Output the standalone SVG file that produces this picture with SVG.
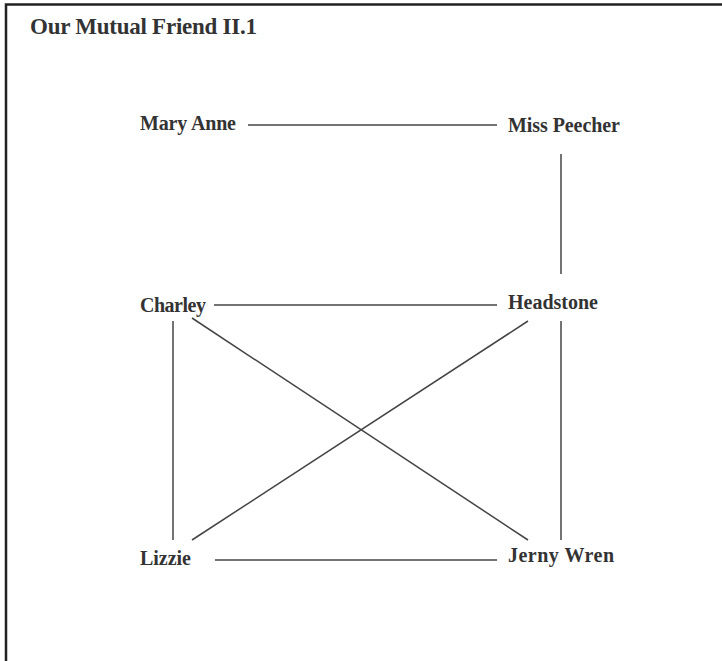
<svg xmlns="http://www.w3.org/2000/svg" width="722" height="661" viewBox="0 0 722 661">
<style>
.lbl{font-family:"Liberation Serif","Times New Roman",serif;font-weight:bold;font-size:20px;fill:#333}
.ttl{font-family:"Liberation Serif","Times New Roman",serif;font-weight:bold;font-size:23px;fill:#333}
.edge{stroke:#444;stroke-width:1.5;fill:none}
</style>
<rect x="0" y="0" width="722" height="661" fill="#fff"/>
<path d="M6,670 V4.5 H730" stroke="#222" stroke-width="2.5" fill="none"/>
<text class="ttl" x="30" y="34" textLength="227">Our Mutual Friend II.1</text>
<g id="connectors">
<line class="edge" x1="248" y1="125" x2="497" y2="125"/>
<line class="edge" x1="561" y1="154" x2="561" y2="274"/>
<line class="edge" x1="214" y1="305" x2="497" y2="305"/>
<line class="edge" x1="173" y1="321" x2="173" y2="540"/>
<line class="edge" x1="192" y1="318" x2="528" y2="540"/>
<line class="edge" x1="192" y1="540" x2="528" y2="321"/>
<line class="edge" x1="561" y1="321" x2="561" y2="540"/>
<line class="edge" x1="215" y1="560" x2="497" y2="560"/>
</g>
<g id="mary-anne"><text class="lbl" x="140" y="130" textLength="96">Mary Anne</text></g>
<g id="miss-peecher"><text class="lbl" x="508" y="132" textLength="112">Miss Peecher</text></g>
<g id="charley"><text class="lbl" x="140" y="312" textLength="66">Charley</text></g>
<g id="headstone"><text class="lbl" x="508" y="309" textLength="90">Headstone</text></g>
<g id="lizzie"><text class="lbl" x="140" y="565" textLength="51">Lizzie</text></g>
<g id="jerny-wren"><text class="lbl" x="508" y="562" textLength="106">Jerny Wren</text></g>
</svg>
